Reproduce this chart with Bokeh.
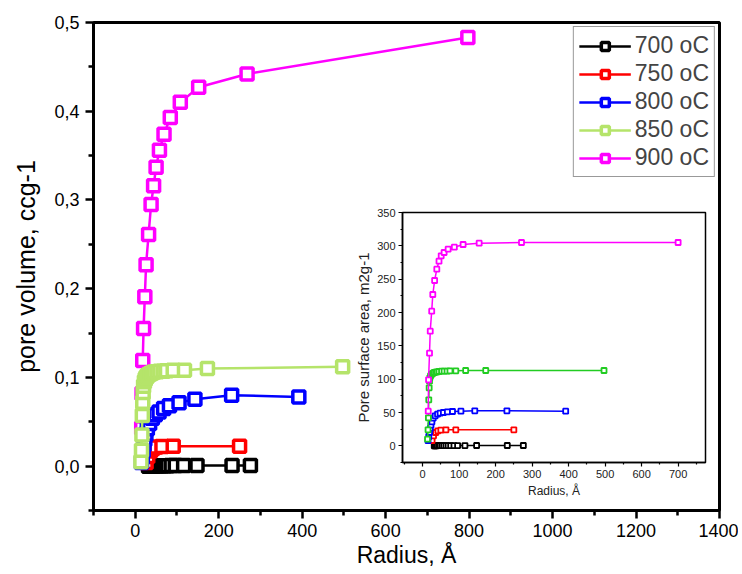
from bokeh.plotting import figure
from bokeh.models import FixedTicker, Legend, LegendItem, Range1d
from bokeh.layouts import column
from bokeh.embed import file_html
from bokeh.resources import INLINE

# ---------------- data ----------------
series_names = ["700 oC", "750 oC", "800 oC", "850 oC", "900 oC"]
main_colors = ["#000000", "#FF0000", "#0000FF", "#B5E46A", "#FF00FF"]
inset_colors = ["#000000", "#FF0000", "#0000FF", "#22CC22", "#FF00FF"]

# 700 oC
r700 = [32, 34, 37, 40, 44, 48, 53, 58, 64, 70, 77, 86, 96, 116, 148, 232, 276]
v700 = [0.0, 0.0001, 0.0001, 0.0002, 0.0002, 0.0003, 0.0003, 0.0004, 0.0004,
        0.0005, 0.0005, 0.0006, 0.0006, 0.0007, 0.0007, 0.0008, 0.0008]
a700 = [0.0, 0.1, 0.1, 0.2, 0.2, 0.2, 0.3, 0.3, 0.3, 0.3, 0.4, 0.4, 0.4, 0.4, 0.5, 0.5, 0.5]

# 750 oC
r750 = [26, 30, 36, 42, 50, 64, 91, 250]
v750 = [0.004, 0.011, 0.017, 0.020, 0.0215, 0.022, 0.0225, 0.0225]
a750 = [8, 15, 20, 22.5, 23.5, 24, 24, 24]

# 800 oC
r800 = [15, 17, 19, 21, 23, 25.5, 29, 34.5, 41, 48, 57, 68, 82, 105, 143, 231, 392]
v800 = [0.004, 0.010, 0.017, 0.024, 0.030, 0.036, 0.042, 0.048, 0.054, 0.058,
        0.061, 0.065, 0.068, 0.0713, 0.0755, 0.080, 0.078]
a800 = [8, 14, 20, 26, 31, 36, 41.5, 45, 47.5, 49, 50, 51, 51.5, 52, 52.5, 52.5, 52]

# 850 oC
r850 = [13.6, 15, 16, 17, 18, 19, 20, 22, 24, 26, 29, 32, 36, 40, 45, 52, 59, 67,
        75, 91, 118, 173, 497]
v850 = [0.005, 0.018, 0.035, 0.057, 0.072, 0.083, 0.090, 0.095, 0.098, 0.100,
        0.102, 0.103, 0.104, 0.105, 0.106, 0.1065, 0.107, 0.107, 0.1075, 0.108,
        0.108, 0.110, 0.112]
a850 = [10, 24, 42, 69, 87, 97, 102, 105, 107, 108, 109, 110, 110.5, 111, 111.5,
        112, 112, 112, 112.5, 112.5, 113, 113, 113]

# 900 oC (main: pore volume; inset: surface area)
r900_main = [15.5, 16.4, 18, 20, 23, 26, 32, 38, 44, 50, 58, 69, 84, 108, 152, 268, 797]
v900 = [0.043, 0.082, 0.119, 0.155, 0.191, 0.227, 0.261, 0.295, 0.316, 0.337,
        0.356, 0.374, 0.393, 0.410, 0.427, 0.442, 0.483]
r900_inset = [15.5, 16.4, 19, 21, 25, 28, 33, 39, 45, 51, 59, 70, 87, 111, 155, 271, 700]
a900 = [52, 99, 139, 172, 202, 227, 248, 265, 277, 285, 290, 295, 298, 302, 304, 305, 305]

main_x = [r700, r750, r800, r850, r900_main]
main_y = [v700, v750, v800, v850, v900]
inset_x = [r700, r750, r800, r850, r900_inset]
inset_y = [a700, a750, a800, a850, a900]

# ticks
main_x_ticks = [0, 200, 400, 600, 800, 1000, 1200, 1400]
main_x_minor = [-100, 100, 300, 500, 700, 900, 1100, 1300]
main_y_ticks = [0.0, 0.1, 0.2, 0.3, 0.4, 0.5]
main_y_labels = ["0,0", "0,1", "0,2", "0,3", "0,4", "0,5"]
main_y_minor = [-0.05, 0.05, 0.15, 0.25, 0.35, 0.45]
inset_x_ticks = [0, 100, 200, 300, 400, 500, 600, 700]
inset_x_minor = [-50, 50, 150, 250, 350, 450, 550, 650, 750]
inset_y_ticks = [0, 50, 100, 150, 200, 250, 300, 350]
inset_y_minor = [-25, 25, 75, 125, 175, 225, 275, 325]

FONT = "Liberation Sans"

# ---------------- main figure ----------------
p = figure(width=738, height=570, output_backend="svg", toolbar_location=None,
           x_range=Range1d(-100, 1400), y_range=Range1d(-0.05, 0.5),
           min_border_left=93, min_border_right=19, min_border_top=22,
           min_border_bottom=60)
p.grid.visible = False
p.outline_line_color = "black"
p.outline_line_width = 3
p.background_fill_color = "white"

for ax in (p.xaxis[0], p.yaxis[0]):
    ax.axis_line_width = 3
    ax.major_tick_line_width = 2.5
    ax.minor_tick_line_width = 2.5
    ax.major_tick_in = 0
    ax.major_tick_out = 8
    ax.minor_tick_in = 0
    ax.minor_tick_out = 5
    ax.major_label_text_font = FONT
    ax.major_label_text_font_size = "18px"
    ax.major_label_text_color = "black"
    ax.axis_label_text_font = FONT
    ax.axis_label_text_font_style = "normal"
    ax.axis_label_text_color = "black"

p.xaxis[0].ticker = FixedTicker(ticks=main_x_ticks, minor_ticks=main_x_minor)
p.yaxis[0].ticker = FixedTicker(ticks=main_y_ticks, minor_ticks=main_y_minor)
p.yaxis[0].major_label_overrides = dict(zip(main_y_ticks, main_y_labels))
p.xaxis[0].axis_label = "Radius, Å"
p.yaxis[0].axis_label = "pore volume, ccg-1"
p.xaxis[0].axis_label_text_font_size = "23px"
p.yaxis[0].axis_label_text_font_size = "25px"
p.xaxis[0].major_label_standoff = 5
p.xaxis[0].axis_label_standoff = 2
p.yaxis[0].major_label_standoff = 6
p.yaxis[0].axis_label_standoff = 11

draw_order = [4, 0, 1, 2, 3]
items = {}
for i in draw_order:
    ln = p.line(main_x[i], main_y[i], line_color=main_colors[i], line_width=2.5)
    sc = p.scatter(main_x[i], main_y[i], marker="square", size=12,
                   line_color=main_colors[i], line_width=3.5, fill_color="white")
    items[i] = LegendItem(label=series_names[i], renderers=[ln, sc])

legend = Legend(items=[items[i] for i in range(5)], location="top_right",
                label_text_font=FONT, label_text_font_size="23px",
                glyph_width=52, glyph_height=20, label_standoff=4, spacing=1,
                padding=5, margin=4, border_line_color="#333333",
                border_line_width=1, background_fill_color="white")
p.add_layout(legend)

# ---------------- inset figure ----------------
# (column aligns frame borders with the main plot, so borders match p's)
inset = figure(width=415, height=297, output_backend="svg", toolbar_location=None,
               x_range=Range1d(-55, 775), y_range=Range1d(-25, 350),
               min_border_left=93, min_border_right=19, min_border_top=7,
               min_border_bottom=40,
               styles={"margin-left": "309px", "margin-top": "-365px"})
inset.grid.visible = False
inset.outline_line_color = "black"
inset.outline_line_width = 1.5
inset.background_fill_alpha = 0
inset.border_fill_alpha = 0

for ax in (inset.xaxis[0], inset.yaxis[0]):
    ax.axis_line_width = 1.5
    ax.major_tick_line_width = 1.2
    ax.minor_tick_line_width = 1.2
    ax.major_tick_in = 0
    ax.major_tick_out = 4
    ax.minor_tick_in = 0
    ax.minor_tick_out = 2
    ax.major_label_text_font = FONT
    ax.major_label_text_font_size = "11px"
    ax.major_label_text_color = "#222222"
    ax.axis_label_text_font = FONT
    ax.axis_label_text_font_style = "normal"
    ax.axis_label_text_color = "#222222"
    ax.major_label_standoff = 3
    ax.axis_label_standoff = 3

inset.yaxis[0].axis_label_standoff = 2
inset.xaxis[0].ticker = FixedTicker(ticks=inset_x_ticks, minor_ticks=inset_x_minor)
inset.yaxis[0].ticker = FixedTicker(ticks=inset_y_ticks, minor_ticks=inset_y_minor)
inset.xaxis[0].axis_label = "Radius, Å"
inset.yaxis[0].axis_label = "Pore surface area, m2g-1"
inset.xaxis[0].axis_label_text_font_size = "12px"
inset.yaxis[0].axis_label_text_font_size = "15px"

for i in range(5):
    inset.line(inset_x[i], inset_y[i], line_color=inset_colors[i], line_width=1.5)
    inset.scatter(inset_x[i], inset_y[i], marker="square", size=5,
                  line_color=inset_colors[i], line_width=1.8, fill_color="white")

layout = column(p, inset)
open("out.html", "w").write(file_html(layout, INLINE))
